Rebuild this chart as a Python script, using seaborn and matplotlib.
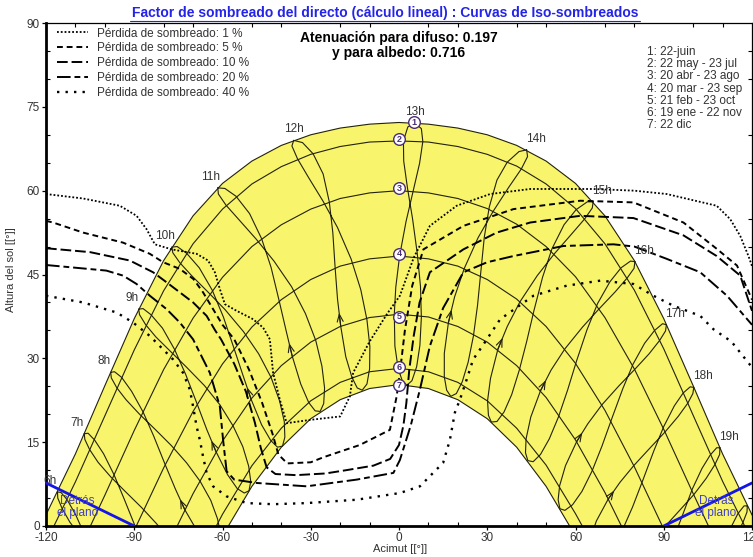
import numpy as np
import pandas as pd
import matplotlib
matplotlib.use("Agg")
import matplotlib.pyplot as plt
import seaborn as sns
from matplotlib.lines import Line2D
from matplotlib.ticker import MultipleLocator

n = float("nan")

# date curves: sun altitude on a 10 deg azimuth grid, plus sunrise / sunset azimuth
grid_az = [-120, -110, -100, -90, -80, -70, -60, -50, -40, -30, -20, -10, 0,
           10, 20, 30, 40, 50, 60, 70, 80, 90, 100, 110, 120]
date_rise = [-122.0, -117.3, -104.9, -89.3, -75.4, -62.1, -58.0]
date_set = [122.0, 117.5, 105.2, 89.5, 75.6, 62.3, 58.0]
alt_jun22 = [2.0, 12.9, 25.1, 37.1, 47.5, 55.5, 61.3, 65.3, 68.1, 70.0, 71.2, 71.9, 72.2,
             71.9, 71.2, 70.0, 68.1, 65.3, 61.3, 55.5, 47.5, 37.1, 25.1, 12.9, 2.0]
alt_may22 = [n, 7.9, 19.7, 31.5, 42.1, 50.5, 56.7, 61.2, 64.3, 66.5, 67.9, 68.7, 68.9,
             68.7, 67.9, 66.5, 64.4, 61.2, 56.8, 50.5, 42.2, 31.7, 19.8, 8.0, n]
alt_apr20 = [n, n, 5.5, 17.1, 28.0, 37.2, 44.5, 50.0, 53.9, 56.7, 58.6, 59.6, 60.0,
             59.6, 58.6, 56.8, 54.0, 50.0, 44.6, 37.3, 28.1, 17.3, 5.8, n, n]
alt_mar20 = [n, n, n, n, 10.4, 20.5, 29.0, 35.6, 40.5, 44.1, 46.5, 47.8, 48.3,
             47.8, 46.5, 44.1, 40.6, 35.7, 29.1, 20.7, 10.6, n, n, n, n]
alt_feb21 = [n, n, n, n, n, 5.8, 15.2, 22.9, 28.7, 32.9, 35.7, 37.3, 37.9,
             37.4, 35.7, 32.9, 28.7, 23.0, 15.4, 6.0, n, n, n, n, n]
alt_jan19 = [n, n, n, n, n, n, 2.1, 10.8, 17.5, 22.4, 25.7, 27.6, 28.2,
             27.6, 25.7, 22.4, 17.5, 10.9, 2.2, n, n, n, n, n, n]
alt_dec22 = [n, n, n, n, n, n, n, 7.1, 14.1, 19.2, 22.6, 24.6, 25.3,
             24.6, 22.6, 19.2, 14.1, 7.1, n, n, n, n, n, n, n]

# hour lines (analemmas), one point every ~half month starting 22 June
hours = [6, 7, 8, 9, 10, 11, 12, 13, 14, 15, 16, 17, 18, 19, 20]
hour_az = [
    [-116.1, -116.0, -114.5, -111.9, -107.8, -103.1, -97.5, -92.2, -87.4, -83.4, -80.5, -79.1,
     -79.3, -80.9, -83.6, -87.7, -92.4, -95.9, -99.5, -103.3, -106.6, -109.9, -112.8, -114.9],
    [-107.0, -106.8, -105.2, -102.3, -98.0, -93.1, -87.5, -82.4, -77.7, -73.9, -71.3, -70.1,
     -70.4, -71.9, -74.4, -78.2, -82.6, -86.0, -89.5, -93.4, -96.9, -100.4, -103.5, -105.7],
    [-98.0, -97.8, -95.9, -92.8, -88.2, -83.1, -77.4, -72.2, -67.6, -64.0, -61.7, -60.7,
     -61.1, -62.7, -65.1, -68.6, -72.8, -76.0, -79.5, -83.4, -87.0, -90.9, -94.3, -96.7],
    [-88.5, -88.2, -86.1, -82.6, -77.6, -72.2, -66.1, -60.9, -56.4, -53.1, -51.1, -50.4,
     -51.0, -52.6, -55.0, -58.3, -62.2, -65.3, -68.6, -72.5, -76.3, -80.4, -84.3, -87.0],
    [-77.2, -76.9, -74.5, -70.5, -65.0, -59.1, -52.9, -47.7, -43.5, -40.6, -39.0, -38.8,
     -39.6, -41.3, -43.6, -46.7, -50.3, -53.0, -56.1, -59.7, -63.5, -67.9, -72.2, -75.4],
    [-61.6, -61.4, -58.8, -54.4, -48.5, -42.5, -36.5, -31.8, -28.3, -26.2, -25.3, -25.6,
     -26.8, -28.5, -30.7, -33.4, -36.3, -38.4, -40.7, -43.5, -46.7, -50.8, -55.4, -59.2],
    [-35.8, -36.4, -34.5, -30.8, -25.8, -20.9, -16.3, -13.0, -10.9, -9.9, -10.0, -10.9,
     -12.5, -14.2, -16.0, -18.1, -19.8, -20.9, -21.7, -22.5, -23.7, -25.8, -29.2, -32.8],
    [5.4, 3.0, 1.5, 1.6, 2.9, 4.6, 6.2, 7.3, 7.6, 7.1, 6.0, 4.4,
     2.7, 1.1, -0.3, -1.4, -1.6, -1.1, 0.2, 2.4, 4.8, 7.0, 8.1, 7.6],
    [43.4, 40.8, 36.8, 33.3, 30.7, 29.0, 27.8, 26.7, 25.3, 23.5, 21.5, 19.5,
     17.6, 16.2, 15.4, 15.4, 16.8, 18.9, 22.2, 26.9, 32.0, 37.3, 41.6, 43.7],
    [66.0, 64.0, 60.2, 56.1, 52.0, 48.8, 45.9, 43.4, 40.9, 38.3, 35.7, 33.3,
     31.4, 30.4, 30.1, 31.1, 33.6, 36.8, 41.1, 47.0, 52.8, 58.6, 63.2, 65.7],
    [80.2, 78.7, 75.5, 71.7, 67.5, 63.9, 60.4, 57.3, 54.2, 51.1, 48.1, 45.6,
     43.8, 43.0, 43.2, 44.8, 48.1, 51.7, 56.4, 62.4, 68.1, 73.5, 77.6, 79.9],
    [90.9, 89.6, 86.9, 83.5, 79.6, 76.1, 72.4, 69.0, 65.6, 62.2, 59.0, 56.4,
     54.7, 54.1, 54.6, 56.6, 60.4, 64.2, 69.0, 74.8, 80.1, 85.0, 88.6, 90.6],
    [100.2, 99.0, 96.6, 93.6, 90.0, 86.6, 82.9, 79.4, 75.8, 72.2, 68.8, 66.1,
     64.4, 64.0, 64.8, 67.1, 71.1, 75.1, 79.8, 85.4, 90.4, 94.9, 98.2, 99.9],
    [109.1, 108.0, 105.8, 103.0, 99.7, 96.5, 92.8, 89.3, 85.5, 81.7, 78.1, 75.2,
     73.5, 73.2, 74.2, 76.8, 81.1, 85.1, 89.9, 95.4, 100.2, 104.4, 107.4, 109.0],
    [118.4, 117.3, 115.2, 112.7, 109.6, 106.5, 103.0, 99.4, 95.4, 91.3, 87.4, 84.3,
     82.5, 82.2, 83.4, 86.3, 90.8, 95.0, 99.9, 105.4, 110.1, 114.1, 116.9, 118.3],
]
hour_alt = [
    [6.1, 5.0, 3.1, 0.7, -2.2, -4.9, -7.9, -10.9, -13.9, -17.0, -19.9, -22.4,
     -24.2, -25.0, -24.7, -22.9, -19.4, -15.8, -11.5, -6.3, -1.9, 2.0, 4.7, 6.0],
    [16.5, 15.5, 13.7, 11.4, 8.8, 6.2, 3.3, 0.4, -2.7, -5.9, -9.0, -11.6,
     -13.3, -14.0, -13.6, -11.7, -8.1, -4.6, -0.3, 4.8, 9.2, 12.9, 15.4, 16.6],
    [27.5, 26.5, 24.7, 22.6, 20.0, 17.4, 14.4, 11.3, 8.0, 4.6, 1.3, -1.3,
     -3.1, -3.6, -3.0, -0.9, 2.9, 6.6, 11.0, 16.1, 20.4, 24.1, 26.6, 27.6],
    [38.8, 37.8, 36.0, 33.8, 31.2, 28.4, 25.1, 21.7, 17.9, 14.2, 10.7, 8.0,
     6.3, 5.9, 6.7, 9.2, 13.3, 17.2, 21.8, 27.1, 31.6, 35.4, 37.8, 38.9],
    [49.9, 48.9, 47.1, 44.8, 41.9, 38.7, 34.8, 30.8, 26.6, 22.4, 18.7, 15.9,
     14.3, 14.1, 15.3, 18.1, 22.7, 26.9, 31.8, 37.4, 42.2, 46.2, 48.8, 50.0],
    [60.5, 59.4, 57.4, 54.8, 51.3, 47.4, 42.8, 38.0, 33.2, 28.6, 24.7, 21.9,
     20.5, 20.6, 22.1, 25.4, 30.4, 35.0, 40.2, 46.3, 51.4, 55.9, 59.0, 60.4],
    [69.0, 68.0, 65.7, 62.4, 58.1, 53.4, 47.8, 42.3, 36.9, 32.1, 28.1, 25.4,
     24.3, 24.7, 26.6, 30.3, 35.7, 40.6, 46.1, 52.5, 58.0, 63.0, 66.6, 68.6],
    [72.1, 71.4, 68.9, 65.3, 60.4, 55.0, 48.8, 42.9, 37.3, 32.3, 28.5, 26.0,
     25.2, 26.0, 28.2, 32.2, 37.9, 42.7, 48.3, 54.5, 59.9, 64.9, 68.8, 71.1],
    [67.3, 67.0, 65.1, 61.9, 57.1, 51.7, 45.4, 39.5, 34.0, 29.3, 25.8, 23.7,
     23.2, 24.3, 26.7, 30.9, 36.4, 41.0, 46.1, 51.6, 56.3, 60.6, 63.9, 66.1],
    [58.0, 58.0, 56.6, 53.9, 49.6, 44.5, 38.6, 33.0, 27.9, 23.5, 20.4, 18.7,
     18.6, 19.8, 22.4, 26.4, 31.6, 35.7, 40.1, 44.8, 48.7, 52.2, 55.0, 56.9],
    [47.3, 47.4, 46.2, 43.7, 39.8, 35.1, 29.6, 24.3, 19.5, 15.6, 12.8, 11.5,
     11.7, 13.1, 15.6, 19.5, 24.2, 27.9, 31.7, 35.6, 38.9, 41.9, 44.4, 46.1],
    [36.0, 36.2, 35.0, 32.7, 29.0, 24.6, 19.3, 14.3, 9.8, 6.2, 3.8, 2.8,
     3.1, 4.7, 7.2, 10.8, 15.1, 18.3, 21.7, 25.1, 28.0, 30.8, 33.2, 34.9],
    [24.8, 24.9, 23.8, 21.5, 17.8, 13.4, 8.2, 3.4, -0.9, -4.2, -6.3, -7.1,
     -6.6, -5.0, -2.6, 0.9, 4.8, 7.8, 10.8, 14.0, 16.8, 19.6, 22.0, 23.7],
    [14.0, 14.0, 12.7, 10.3, 6.6, 2.1, -3.0, -7.8, -12.0, -15.2, -17.1, -17.7,
     -17.1, -15.5, -13.1, -9.8, -6.1, -3.3, -0.4, 2.8, 5.6, 8.5, 11.0, 12.8],
    [3.6, 3.6, 2.2, -0.4, -4.3, -8.9, -14.2, -19.0, -23.2, -26.4, -28.3, -28.8,
     -28.1, -26.4, -24.1, -21.0, -17.3, -14.5, -11.6, -8.3, -5.2, -2.2, 0.6, 2.5],
]
arrow_hours = [8, 9, 10, 11, 12, 14, 15, 16, 17, 18]   # direction marks, 21 feb -> 6 mar

# iso-shading curves (azimuth, altitude)
loss_1 = [(-120, 59.4), (-107.4, 58.6), (-94.9, 57.3), (-89.2, 55.5), (-85.8, 53.1), (-83.0, 50.4),
          (-77.3, 49.5), (-68.8, 48.7), (-64.9, 47.5), (-62.6, 45.4), (-60.9, 42.4), (-59.2, 39.7),
          (-55.2, 38.5), (-49.6, 37.0), (-46.2, 35.5), (-43.9, 33.4), (-42.8, 27.4), (-40.5, 22.6),
          (-38.2, 18.4), (-30.0, 19.0), (-20.0, 19.6), (-16.7, 23.2), (-15.6, 27.4), (-10.0, 33.0),
          (-4.0, 38.0), (0.3, 41.2), (5.0, 48.0), (10.5, 53.7), (19.6, 57.3), (31.0, 59.4),
          (44.6, 60.3), (66.0, 60.3), (80.0, 60.0), (91.0, 59.4), (108.0, 57.3), (112.6, 54.9),
          (116.0, 51.9), (118.8, 48.3), (120, 46.5)]
loss_5 = [(-120, 54.6), (-117.6, 54.3), (-107.4, 52.5), (-93.8, 50.7), (-84.7, 48.7), (-80.2, 47.2),
          (-74.5, 46.0), (-69.9, 44.2), (-66.6, 41.8), (-63.2, 38.8), (-60.0, 36.0), (-56.0, 33.4),
          (-51.0, 28.0), (-46.5, 22.0), (-43.0, 16.5), (-41.0, 12.8), (-38.0, 11.2), (-30.0, 11.4),
          (-25.7, 12.3), (-13.3, 14.5), (-3.1, 17.2), (-0.8, 23.2), (0.3, 27.4), (2.0, 35.0),
          (4.5, 43.0), (8.3, 49.5), (21.9, 53.7), (38.9, 56.7), (61.6, 58.2), (79.7, 57.9),
          (96.7, 54.3), (108.0, 49.6), (114.9, 46.6), (120, 40.5)]
loss_10 = [(-120, 49.7), (-105.0, 49.0), (-91.5, 47.5), (-83.6, 45.4), (-79.0, 43.6), (-74.5, 41.8),
           (-70.0, 40.0), (-65.4, 37.6), (-62.5, 35.0), (-60.5, 33.4), (-56.0, 29.0), (-52.0, 24.0),
           (-49.0, 18.5), (-47.0, 14.0), (-45.0, 10.5), (-42.0, 9.3), (-35.0, 9.1), (-25.0, 9.4),
           (-17.8, 10.0), (-8.7, 10.8), (-3.0, 12.0), (0.0, 14.5), (1.5, 18.0), (2.5, 22.0),
           (3.5, 28.0), (5.0, 34.0), (7.0, 40.0), (10.5, 45.4), (21.9, 49.5), (33.2, 52.5),
           (44.6, 54.3), (61.6, 55.5), (79.7, 55.1), (96.7, 52.0), (108.0, 48.3), (116.0, 44.8),
           (120, 38.5)]
loss_20 = [(-120, 46.7), (-99.5, 45.7), (-93.8, 44.8), (-89.2, 43.3), (-84.7, 41.2), (-79.0, 38.8),
           (-74.5, 36.4), (-70.0, 33.4), (-64.3, 27.4), (-60.9, 21.4), (-59.8, 15.4), (-58.6, 9.8),
           (-56.0, 8.3), (-48.4, 7.7), (-31.4, 7.1), (-14.4, 8.3), (-1.9, 9.5), (0.3, 11.8),
           (4.0, 18.0), (7.1, 24.4), (10.5, 32.2), (15.0, 39.0), (21.9, 45.4), (30.0, 47.2),
           (38.9, 48.3), (55.9, 50.1), (72.9, 50.4), (80.0, 50.0), (91.0, 47.8), (102.4, 45.4),
           (111.5, 41.2), (120, 36.0)]
loss_40 = [(-120, 41.2), (-107.4, 40.0), (-96.0, 38.2), (-90.4, 36.4), (-84.7, 34.0), (-76.8, 29.8),
           (-73.4, 27.4), (-71.1, 24.4), (-70.0, 21.4), (-68.8, 17.8), (-67.7, 15.4), (-66.6, 12.4),
           (-65.4, 9.5), (-63.2, 7.1), (-58.6, 5.3), (-51.8, 4.1), (-42.8, 3.9), (-31.4, 4.1),
           (-14.4, 4.7), (0.3, 5.9), (7.1, 7.1), (11.6, 9.5), (15.0, 11.3), (17.3, 15.4),
           (19.0, 20.3), (20.7, 22.6), (23.0, 26.2), (25.2, 29.8), (28.6, 32.4), (34.4, 37.0),
           (45.7, 41.2), (57.0, 43.0), (68.4, 43.9), (79.7, 43.3), (86.5, 41.2), (93.3, 39.4),
           (102.4, 37.6), (106.9, 35.2), (113.0, 33.0), (120, 28.4)]

loss_labels = ["Pérdida de sombreado: 1 %", "Pérdida de sombreado: 5 %", "Pérdida de sombreado: 10 %",
               "Pérdida de sombreado: 20 %", "Pérdida de sombreado: 40 %"]
date_labels = ["1: 22-juin", "2: 22 may - 23 jul", "3: 20 abr - 23 ago", "4: 20 mar - 23 sep",
               "5: 21 feb - 23 oct", "6: 19 ene - 22 nov", "7: 22 dic"]
marker_az = [5.1, 0, 0, 0, 0, 0, 0]
marker_alt = [72.2, 69.2, 60.4, 48.7, 37.4, 28.4, 25.2]
plane_left = ([-120, -90], [7.7, 0])
plane_right = ([90, 120], [0, 7.7])

sns.set_theme(style="ticks")
plt.rcParams['font.family'] = ['Liberation Sans', 'DejaVu Sans']
plt.rcParams['axes.unicode_minus'] = False

fig = plt.figure(figsize=(7.53, 5.57), dpi=100)
ax = fig.add_axes([46 / 753, 31 / 557, 706 / 753, 503 / 557])

line_col = "#22220e"
txt_col = "#333333"

# date curves
rows = []
date_alts = [alt_jun22, alt_may22, alt_apr20, alt_mar20, alt_feb21, alt_jan19, alt_dec22]
for k, alts in enumerate(date_alts):
    rows.append((k, date_rise[k], 0.0))
    for a, e in zip(grid_az, alts):
        if not np.isnan(e):
            rows.append((k, a, e))
    rows.append((k, date_set[k], 0.0))
dates_df = pd.DataFrame(rows, columns=["curve", "az", "alt"])

june = dates_df[dates_df.curve == 0]
dec = dates_df[dates_df.curve == 6]
ax.fill(np.r_[june.az.values, dec.az.values[::-1]], np.r_[june.alt.values, dec.alt.values[::-1]],
        color="#f8f46c", lw=0, zorder=1)

sns.lineplot(data=dates_df, x="az", y="alt", units="curve", estimator=None, sort=False,
             color=line_col, lw=0.8, ax=ax, legend=False, zorder=2)

# hour lines
rows = []
for h, azs, alts in zip(hours, hour_az, hour_alt):
    for a, e in zip(azs + azs[:1], alts + alts[:1]):
        rows.append((h, a, e))
hours_df = pd.DataFrame(rows, columns=["hour", "az", "alt"])
sns.lineplot(data=hours_df, x="az", y="alt", units="hour", estimator=None, sort=False,
             color=line_col, lw=0.8, ax=ax, legend=False, zorder=2)

# small direction marks on the hour lines (between the 21 feb and 6 mar points)
for h in arrow_hours:
    k = hours.index(h)
    x0, y0 = hour_az[k][16], hour_alt[k][16]
    x1, y1 = hour_az[k][17], hour_alt[k][17]
    ax.annotate("", xy=((x0 + x1) / 2, (y0 + y1) / 2), xytext=(x0, y0),
                arrowprops=dict(arrowstyle="->,head_length=0.45,head_width=0.18",
                                color=line_col, lw=0.8, shrinkA=0, shrinkB=0), zorder=2)

# iso-shading curves
styles = [dict(linestyle=(0, (1, 1.1)), lw=1.3),
          dict(linestyle=(0, (3, 2)), lw=1.4),
          dict(linestyle=(0, (5.5, 2)), lw=1.4),
          dict(linestyle=(0, (7, 2, 3, 2)), lw=1.4),
          dict(linestyle=(0, (1, 2.6)), lw=1.7)]
handles = []
for pts, st in zip([loss_1, loss_5, loss_10, loss_20, loss_40], styles):
    xs = [p[0] for p in pts]
    ys = [p[1] for p in pts]
    sns.lineplot(x=xs, y=ys, sort=False, estimator=None, color="black", ax=ax, zorder=3, **st)
    handles.append(Line2D([], [], color="black", **st))

# plane limit
for xs, ys in (plane_left, plane_right):
    sns.lineplot(x=xs, y=ys, sort=False, estimator=None, color="#1414e6", lw=2, ax=ax, zorder=4)
for x in (-109.3, 107.8):
    ax.text(x, 3.4, "Detrás\nel plano", color="#4040c8", fontsize=8.5, ha="center", va="center",
            linespacing=0.95, zorder=5)

# hour labels next to the 22 June points
for h, azs, alts in zip(hours, hour_az, hour_alt):
    if h > 19:
        continue
    if h < 12:
        off = (-7, 11)
    elif h < 14:
        off = (0, 11)
    else:
        off = (9, 11)
    ax.annotate("%dh" % h, (azs[0], alts[0]), xytext=off, textcoords="offset pixels",
                ha="center", va="center", fontsize=8.5, color=txt_col, zorder=5)

# date markers
ax.scatter(marker_az, marker_alt, s=70, facecolor="white", edgecolor="#4b2d77", lw=1.0, zorder=6)
for i, (x, y) in enumerate(zip(marker_az, marker_alt)):
    ax.text(x, y, str(i + 1), fontsize=6.5, fontweight="bold", color="#4b2d77",
            ha="center", va="center", zorder=7)

ax.set_xlim(-120, 120)
ax.set_ylim(0, 90)
ax.set_xticks(range(-120, 121, 30))
ax.set_yticks(range(0, 91, 15))
ax.xaxis.set_minor_locator(MultipleLocator(10))
ax.yaxis.set_minor_locator(MultipleLocator(5))
ax.tick_params(which="major", direction="out", length=3, width=0.9, labelsize=8.5,
               labelcolor=txt_col, pad=1.5, color="black")
ax.tick_params(which="minor", direction="in", length=3, width=0.8, top=True, right=True, color="black")
ax.set_xlabel("")
ax.set_ylabel("")
for side in ("left", "bottom"):
    ax.spines[side].set_linewidth(2)
for side in ("top", "right"):
    ax.spines[side].set_linewidth(0.9)
for s in ax.spines.values():
    s.set_color("black")

leg = ax.legend(handles, loss_labels, loc="upper left", bbox_to_anchor=((57 - 46) / 706, 0.991),
                frameon=False, fontsize=8.5, handlelength=2.6, handletextpad=0.75,
                labelspacing=0.24, borderpad=0, borderaxespad=0)
for t in leg.get_texts():
    t.set_color(txt_col)

fig.text(385 / 753, 1 - 13 / 557, "Factor de sombreado del directo (cálculo lineal) : Curvas de Iso-sombreados",
         ha="center", va="center", fontsize=10, fontweight="bold", color="#2424e8")
fig.add_artist(Line2D([130 / 753, 640 / 753], [1 - 20.5 / 557] * 2, color="#2424e8", lw=0.8))
ax.text(0, (526 - 38) / 503, "Atenuación para difuso: 0.197", transform=ax.get_xaxis_transform(),
        ha="center", va="center", fontsize=10, fontweight="bold", color="black")
ax.text(0, (526 - 53) / 503, "y para albedo: 0.716", transform=ax.get_xaxis_transform(),
        ha="center", va="center", fontsize=10, fontweight="bold", color="black")
for i, s in enumerate(date_labels):
    fig.text(647 / 753, 1 - (51.7 + 12.3 * i) / 557, s, ha="left", va="center",
             fontsize=8.5, color=txt_col)

fig.text(400 / 753, 1 - 549 / 557, "Acimut [[°]]", ha="center", va="center", fontsize=8, color=txt_col)
fig.text(11 / 753, 1 - 270 / 557, "Altura del sol [[°]]", ha="center", va="center", rotation=90,
         fontsize=8, color=txt_col)

fig.savefig("out.png", dpi=100)
